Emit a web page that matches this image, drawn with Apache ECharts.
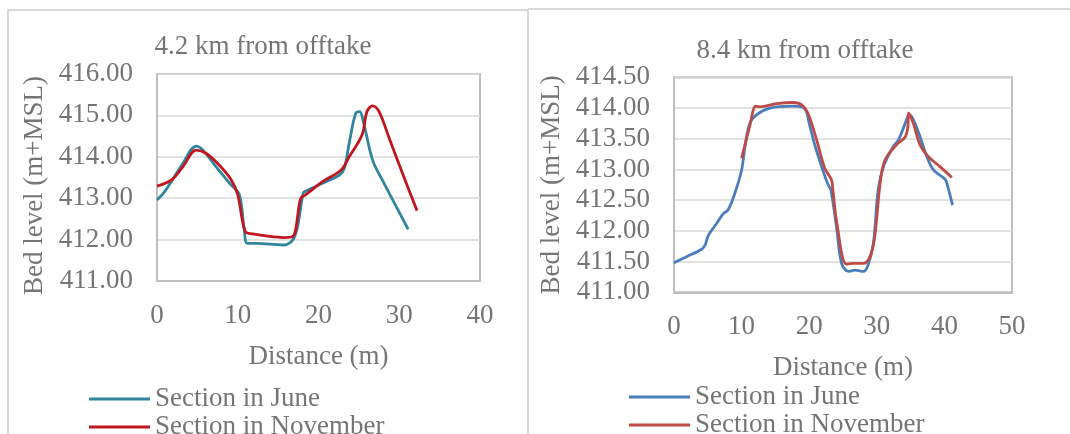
<!DOCTYPE html>
<html>
<head>
<meta charset="utf-8">
<script src="https://cdn.jsdelivr.net/npm/echarts@6/dist/echarts.min.js"></script>
<style>
html,body{margin:0;padding:0;background:#fff;}
#c{width:1070px;height:434px;}
</style>
</head>
<body>
<div id="c"></div>
<script>
// ---- Data ----
const titles = ["4.2 km from offtake", "8.4 km from offtake"];
const seriesNames = ["Section in June", "Section in November"];
const yAxisName = "Bed level (m+MSL)";
const xAxisName = "Distance (m)";

// Left chart (4.2 km)
const leftJuneX = [0, 0.95, 3.2, 4.86, 5.7, 7.3, 9.0, 10.2, 10.8, 11.2, 12.3, 15.6, 16.8, 17.4, 18.1, 18.4, 20.5, 22.6, 23.2, 23.8, 24.6, 25.1, 25.6, 26.7, 27.9, 31.1];
const leftJuneY = [412.96, 413.16, 413.84, 414.26, 414.16, 413.76, 413.36, 413.08, 412.23, 411.91, 411.91, 411.87, 411.99, 412.31, 413.12, 413.17, 413.36, 413.56, 413.72, 414.33, 415.05, 415.09, 414.81, 413.92, 413.44, 412.25];
const leftNovX = [0, 1.8, 3.2, 4.86, 6.1, 7.7, 9.2, 10.0, 10.95, 11.85, 13.5, 15.6, 16.8, 17.8, 18.4, 20.5, 22.8, 23.8, 25.4, 26.0, 26.7, 27.5, 28.7, 30.4, 32.2];
const leftNovY = [413.29, 413.44, 413.76, 414.16, 414.08, 413.80, 413.44, 413.08, 412.19, 412.14, 412.09, 412.05, 412.07, 413.0, 413.08, 413.40, 413.68, 414.0, 414.53, 415.09, 415.23, 415.09, 414.48, 413.60, 412.70];

// Right chart (8.4 km)
const rightJuneX = [0, 1.87, 4.1, 4.6, 5.1, 6.3, 7.3, 8.0, 9.0, 10.0, 10.5, 11.2, 12.2, 14.2, 17.6, 19.1, 19.6, 20.0, 20.9, 22.1, 22.8, 23.2, 24.1, 24.8, 25.8, 26.8, 28.0, 28.7, 29.5, 30.2, 31.0, 32.4, 33.2, 34.2, 34.8, 35.4, 36.4, 37.4, 38.4, 40.1, 40.5, 41.2];
const rightJuneY = [411.48, 411.58, 411.70, 411.77, 411.93, 412.12, 412.28, 412.34, 412.61, 412.99, 413.37, 413.75, 413.89, 414.0, 414.03, 414.01, 413.94, 413.75, 413.37, 412.96, 412.75, 412.67, 412.01, 411.47, 411.34, 411.36, 411.34, 411.44, 411.80, 412.67, 413.05, 413.37, 413.48, 413.75, 413.89, 413.81, 413.53, 413.21, 412.99, 412.84, 412.72, 412.42];
const rightNovX = [10.0, 11.2, 12.1, 12.7, 15.2, 17.6, 18.9, 19.9, 21.1, 22.3, 23.3, 23.5, 24.1, 25.5, 26.5, 28.0, 29.0, 29.7, 30.5, 31.2, 32.9, 34.2, 34.6, 34.7, 35.4, 36.4, 37.6, 39.3, 41.1];
const rightNovY = [413.18, 413.70, 414.03, 414.02, 414.07, 414.09, 414.05, 413.89, 413.48, 413.02, 412.83, 412.67, 412.12, 411.46, 411.47, 411.47, 411.58, 411.91, 412.78, 413.15, 413.40, 413.53, 413.70, 413.92, 413.75, 413.40, 413.21, 413.05, 412.87];

// Axis ranges / ticks
const leftYMin = 411, leftYMax = 416, leftYStep = 1;
const rightYMin = 411, rightYMax = 414.5, rightYStep = 0.5;
const leftXMin = 0, leftXMax = 40, rightXMin = 0, rightXMax = 50, xStep = 10;

// ---- Styling ----
const FONT = '"Liberation Serif", "Times New Roman", serif';
const TXT = '#757575';
const colors = {
  leftJune: '#31859C', leftNov: '#C0161F',
  rightJune: '#4A7EBB', rightNov: '#BE4B48'
};

function zip(xs, ys) { return xs.map((x, i) => [x, ys[i]]); }

function xAxisCfg(gi, min, max) {
  return {
    type: 'value', gridIndex: gi, min: min, max: max, interval: xStep,
    name: xAxisName, nameLocation: 'middle', nameGap: 62,
    nameTextStyle: { fontFamily: FONT, fontSize: 27, color: TXT, lineHeight: 27 },
    axisLine: { show: true, lineStyle: { color: '#BFBFBF', width: 2 } },
    axisTick: { show: false },
    axisLabel: { fontFamily: FONT, fontSize: 27, color: TXT, margin: 21, lineHeight: 27 },
    splitLine: { show: false }
  };
}
function yAxisCfg(gi, min, max, step, namePad) {
  return {
    type: 'value', gridIndex: gi, min: min, max: max, interval: step,
    name: yAxisName, nameLocation: 'middle', nameGap: 109,
    nameTextStyle: { fontFamily: FONT, fontSize: 27, color: TXT, lineHeight: 27, padding: namePad },
    axisLine: { show: true, lineStyle: { color: '#BFBFBF', width: 2 } },
    axisTick: { show: false },
    axisLabel: { fontFamily: FONT, fontSize: 27, color: TXT, margin: 24, formatter: v => v.toFixed(2) },
    splitLine: { show: true, lineStyle: { color: '#D9D9D9', width: 1.5 } }
  };
}
function lineSeries(name, data, color, xi, yi) {
  return {
    type: 'line', name: name, data: data, xAxisIndex: xi, yAxisIndex: yi,
    smooth: 0.35, symbol: 'none', showSymbol: false,
    lineStyle: { color: color, width: 2.8 }, itemStyle: { color: color },
    z: name.indexOf('November') >= 0 ? 3 : 2
  };
}
function legendCfg(name, color, left, centerY) {
  return {
    data: [{ name: name, itemStyle: { color: color } }],
    orient: 'horizontal', left: left, top: centerY - 14, padding: 0,
    itemWidth: 61, itemHeight: 3, itemGap: 5, icon: 'rect', selectedMode: false,
    textStyle: { fontFamily: FONT, fontSize: 27, color: TXT, lineHeight: 28 }
  };
}

const L = ' '; // distinguishes left-panel series names from right-panel ones
const chart = echarts.init(document.getElementById('c'), null, { renderer: 'canvas' });
chart.setOption({
  animation: false,
  backgroundColor: '#ffffff',
  title: [
    { text: titles[0], left: 263, top: 33, textAlign: 'center', padding: 0,
      textStyle: { fontFamily: FONT, fontSize: 27, fontWeight: 'normal', color: TXT, lineHeight: 27 } },
    { text: titles[1], left: 805, top: 37, textAlign: 'center', padding: 0,
      textStyle: { fontFamily: FONT, fontSize: 27, fontWeight: 'normal', color: TXT, lineHeight: 27 } }
  ],
  grid: [
    { left: 157, top: 74, width: 323, height: 207, show: true, borderColor: '#BFBFBF', borderWidth: 2, containLabel: false },
    { left: 674, top: 77.3, width: 338, height: 215, show: true, borderColor: '#BFBFBF', borderWidth: 2, containLabel: false }
  ],
  xAxis: [ xAxisCfg(0, leftXMin, leftXMax), xAxisCfg(1, rightXMin, rightXMax) ],
  yAxis: [ yAxisCfg(0, leftYMin, leftYMax, leftYStep, [0, 16, 0, 0]), yAxisCfg(1, rightYMin, rightYMax, rightYStep, 0) ],
  legend: [
    legendCfg(seriesNames[0] + L, colors.leftJune, 89, 399),
    legendCfg(seriesNames[1] + L, colors.leftNov, 89, 427),
    legendCfg(seriesNames[0], colors.rightJune, 629, 397),
    legendCfg(seriesNames[1], colors.rightNov, 629, 425)
  ],
  series: [
    lineSeries(seriesNames[0] + L, zip(leftJuneX, leftJuneY), colors.leftJune, 0, 0),
    lineSeries(seriesNames[1] + L, zip(leftNovX, leftNovY), colors.leftNov, 0, 0),
    lineSeries(seriesNames[0], zip(rightJuneX, rightJuneY), colors.rightJune, 1, 1),
    lineSeries(seriesNames[1], zip(rightNovX, rightNovY), colors.rightNov, 1, 1)
  ],
  graphic: [
    { type: 'polyline', shape: { points: [[8, 440], [8, 10], [528, 10], [528, 440]] },
      style: { stroke: '#D9D9D9', lineWidth: 2, fill: null }, silent: true },
    { type: 'line', shape: { x1: 528, y1: 9, x2: 1070, y2: 9 },
      style: { stroke: '#D9D9D9', lineWidth: 2 }, silent: true }
  ]
});
</script>
</body>
</html>
